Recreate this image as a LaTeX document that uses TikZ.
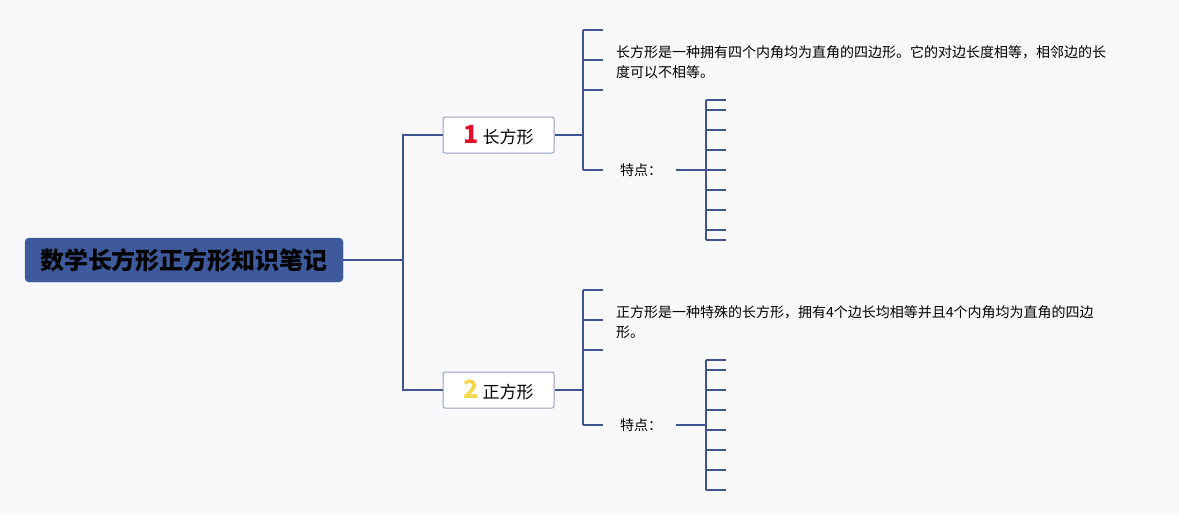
\documentclass[tikz,border=0pt]{standalone}
\usepackage{fontspec}
\setmainfont{Noto Sans CJK SC}
\usetikzlibrary{positioning}
\definecolor{branchblue}{HTML}{3F5591}
\definecolor{rootblue}{HTML}{3E5A9C}
\definecolor{boxedge}{HTML}{97A2C2}
\definecolor{bgpaper}{HTML}{F9F9FB}
\definecolor{numred}{HTML}{E0102A}
\definecolor{numyellow}{HTML}{F2D84A}
\tikzset{
	branch/.style={draw=branchblue,line width=1.5pt},
	rootbox/.style={rectangle,rounded corners=4pt,fill=rootblue,draw=rootblue,
		minimum width=318pt,minimum height=44pt,font=\fontsize{24}{28}\selectfont\bfseries},
	topicbox/.style={rectangle,rounded corners=2pt,draw=boxedge,fill=white,line width=1pt,
		minimum width=111pt,minimum height=36pt,font=\fontsize{17}{20}\selectfont},
	notetext/.style={anchor=base west,inner sep=0pt,text width=520pt,align=left,
		font=\fontsize{14}{20.5}\selectfont},
	featlabel/.style={anchor=west,inner sep=0pt,text width=56pt,align=left,
		font=\fontsize{14}{16}\selectfont},
}
\newcommand{\topicnum}[2]{{\color{#1}\fontsize{25}{25}\selectfont\bfseries #2}}

\begin{document}
\begin{tikzpicture}[x=1pt,y=-1pt,line cap=butt]
	\fill[bgpaper] (0,0) rectangle (1179,515);
	
	% root and the two topics
	\node[rootbox] (root) at (184,260) {数学长方形正方形知识笔记};
	\node[topicbox] (rect) at (498.5,135) {\topicnum{numred}{1}\ 长方形};
	\node[topicbox] (square) at (498.5,390) {\topicnum{numyellow}{2}\ 正方形};
	\coordinate (hub) at (403,260);
	\draw[branch] (root.east) -- (hub);
	\draw[branch] (hub) |- (rect.west);
	\draw[branch] (hub) |- (square.west);
	
	% first topic
	\coordinate (recthub) at (583,135);
	\draw[branch] (rect.east) -- (recthub);
	\draw[branch] (583,30) -- (583,170);
	\foreach \y in {30,60,90,170}
		\draw[branch] (583,\y) -- ++(20,0);
	\node[notetext] (rectnote) at (616,57)
		{长方形是一种拥有四个内角均为直角的四边形。它的对边长度相等，相邻边的长\\度可以不相等。};
	\node[featlabel] (rectfeat) at (620,170) {特点：};
	\draw[branch] (rectfeat.east) -- (706,170);
	\draw[branch] (706,100) -- (706,240);
	\foreach \y in {100,110,130,150,170,190,210,230,240}
		\draw[branch] (706,\y) -- ++(20,0);
	
	% second topic
	\coordinate (squarehub) at (583,390);
	\draw[branch] (square.east) -- (squarehub);
	\draw[branch] (583,290) -- (583,425);
	\foreach \y in {290,320,350,425}
		\draw[branch] (583,\y) -- ++(20,0);
	\node[notetext] (squarenote) at (616,317)
		{正方形是一种特殊的长方形，拥有4个边长均相等并且4个内角均为直角的四边\\形。};
	\node[featlabel] (squarefeat) at (620,425) {特点：};
	\draw[branch] (squarefeat.east) -- (706,425);
	\draw[branch] (706,360) -- (706,490);
	\foreach \y in {360,370,390,410,430,450,470,490}
		\draw[branch] (706,\y) -- ++(20,0);
\end{tikzpicture}
\end{document}
